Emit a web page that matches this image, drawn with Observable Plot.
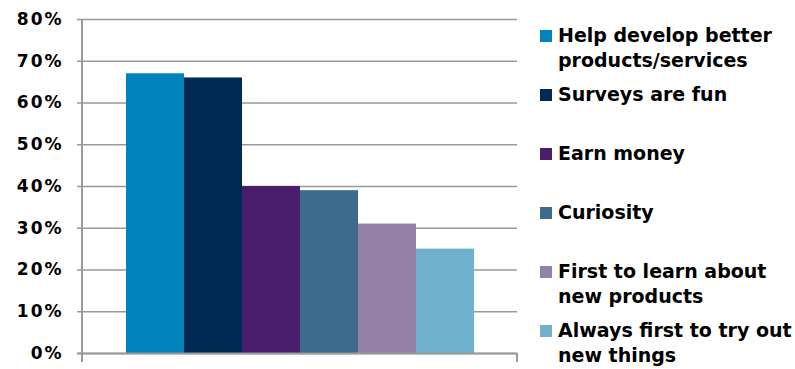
<!DOCTYPE html>
<html><head><meta charset="utf-8">
<script src="https://cdn.jsdelivr.net/npm/d3@7"></script>
<script src="https://cdn.jsdelivr.net/npm/@observablehq/plot@0.6"></script>
<style>
body{margin:0;background:#fff;}
#wrap{position:relative;width:795px;height:369px;font-family:"DejaVu Sans",Verdana,sans-serif;font-weight:bold;}
#wrap svg{position:absolute;left:0;top:0;}
.leg{position:absolute;left:540px;font-size:19px;line-height:25px;color:#000;}
.sw{position:absolute;left:0;top:7px;width:12px;height:12px;}
.lt{position:absolute;left:18px;top:0;white-space:pre;}
</style></head><body><div id="wrap"></div>
<script>
const categories = ["Help develop better products/services","Surveys are fun","Earn money","Curiosity","First to learn about new products","Always first to try out new things"];
const legendLines = [["Help develop better","products/services"],["Surveys are fun"],["Earn money"],["Curiosity"],["First to learn about","new products"],["Always first to try out","new things"]];
const values = [0.67,0.66,0.40,0.39,0.31,0.25];
const colors = ["#0083BB","#002A54","#4B1E6D","#3D6B8C","#9580A8","#6FB1CD"];
const yTicks = [0,0.1,0.2,0.3,0.4,0.5,0.6,0.7,0.8];

const data = categories.map((c,i)=>({category:c, value:values[i]}));

const chart = Plot.plot({
  width: 795, height: 369,
  marginLeft: 82, marginRight: 278, marginTop: 19, marginBottom: 16,
  style: {fontFamily:'"DejaVu Sans",Verdana,sans-serif', fontWeight:"bold", fontSize:"17px", color:"#000", background:"transparent", letterSpacing:"2px"},
  x: {domain: categories, paddingInner: 0, paddingOuter: 0.74, axis: null},
  y: {domain: [0,0.8], label: null},
  color: {domain: categories, range: colors},
  marks: [
    Plot.gridY(yTicks, {stroke:"#999", strokeOpacity:1, strokeWidth:1.5}),
    Plot.barY(data, {x:"category", y:"value", fill:"category"}),
    Plot.axisY({ticks: yTicks, tickFormat: d3.format(".0%"), tickSize: 5, tickPadding: 14, stroke:"#999", strokeWidth:1.5, fill:"#000", fontSize:17, label: null}),
    Plot.ruleY([0], {stroke:"#999", strokeWidth:2, insetLeft:-5})
  ]
});
const wrap = document.getElementById("wrap");
wrap.appendChild(chart);

// axis decorations derived from the scales
const xs = chart.scale("x"), ys = chart.scale("y");
const x0 = xs.range[0], x1 = xs.range[1];
const svg = d3.select(chart);
svg.append("line").attr("x1",x0).attr("x2",x0).attr("y1",ys.apply(0.8)).attr("y2",ys.apply(0)+9).attr("stroke","#999").attr("stroke-width",2);
svg.append("line").attr("x1",x1).attr("x2",x1).attr("y1",ys.apply(0)).attr("y2",ys.apply(0)+9).attr("stroke","#999").attr("stroke-width",2);

// legend
legendLines.forEach((lines,i)=>{
  const d = document.createElement("div");
  d.className = "leg";
  d.style.top = (22.5 + i*59) + "px";
  const sw = document.createElement("div");
  sw.className = "sw"; sw.style.background = colors[i];
  const t = document.createElement("div");
  t.className = "lt"; t.textContent = lines.join("\n");
  d.appendChild(sw); d.appendChild(t);
  wrap.appendChild(d);
});
</script></body></html>
